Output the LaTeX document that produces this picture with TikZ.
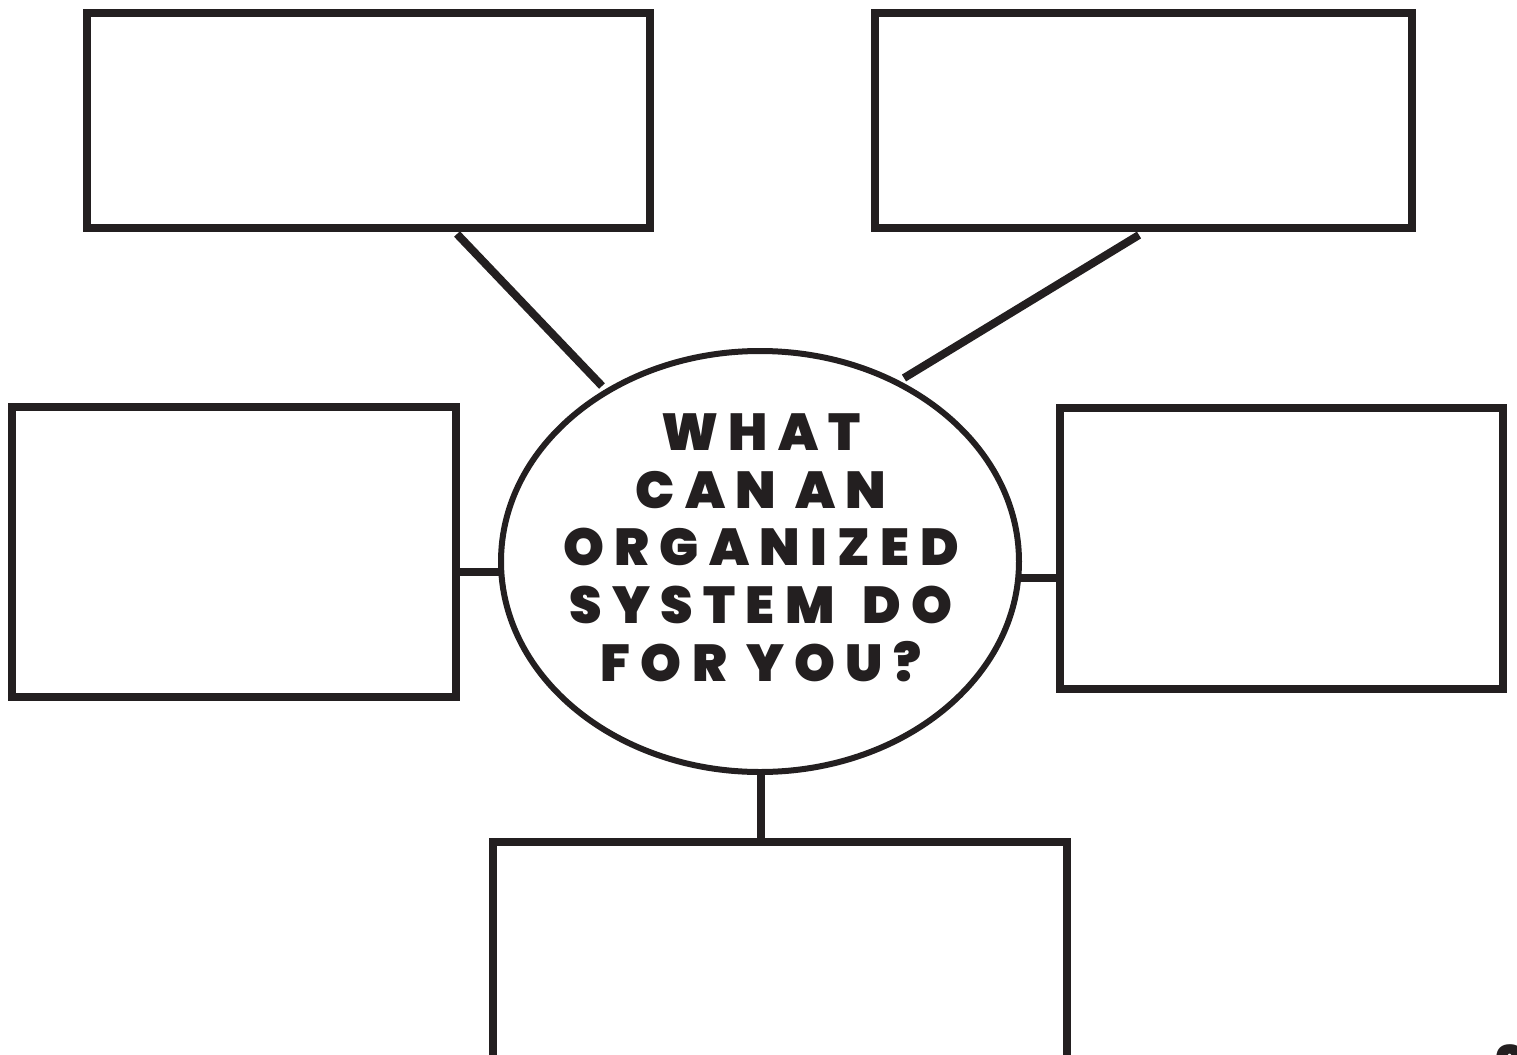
\documentclass[tikz,border=0pt]{standalone}
\usepackage{fontspec}
\newfontfamily\headfont{Poppins Black}[LetterSpace=20]
\definecolor{ink}{HTML}{231F20}
\begin{document}
\begin{tikzpicture}[x=0.5pt,y=-0.5pt,
  answerbox/.style={draw=ink,line width=4pt},
  link/.style={draw=ink,line width=4pt,line cap=butt},
  hub/.style={draw=ink,line width=3pt},
  question/.style={text=ink,font=\headfont\fontsize{26}{26}\selectfont,anchor=base,inner sep=0pt}]
\useasboundingbox (0,0) rectangle (1517,1055);
% answer boxes
\draw[answerbox] (87,13) rectangle (650,228);
\draw[answerbox] (875,13) rectangle (1412,228);
\draw[answerbox] (12,407) rectangle (456,697);
\draw[answerbox] (1060,408) rectangle (1503,689);
\draw[answerbox] (493,842) rectangle (1067,1062);
% hub
\draw[hub] (760,561.5) ellipse [x radius=259, y radius=210.5];
% connectors
\coordinate (tlA) at (457,234);
\coordinate (tlB) at (602,386);
\coordinate (trA) at (1139,235);
\coordinate (trB) at (904,378);
\coordinate (lA) at (460,572);
\coordinate (lB) at (500,572);
\coordinate (rA) at (1020,578);
\coordinate (rB) at (1058,578);
\coordinate (bA) at (761,773);
\coordinate (bB) at (761,840);
\draw[link] (tlA) -- (tlB);
\draw[link] (trA) -- (trB);
\draw[link] (lA) -- (lB);
\draw[link] (rA) -- (rB);
\draw[link] (bA) -- (bB);
% question text
\node[question] (q1) at (761,450) {WHAT};
\node[question] (q2) at (761,508) {CAN AN};
\node[question] (q3) at (761,565) {ORGANIZED};
\node[question] (q4) at (761,623) {SYSTEM\hspace{14pt}DO};
\node[question] (q5) at (761,681) {FOR YOU?};
% page number, cut by the page edge
\node[question] (pg) at (1510,1083) {3};
\end{tikzpicture}
\end{document}
